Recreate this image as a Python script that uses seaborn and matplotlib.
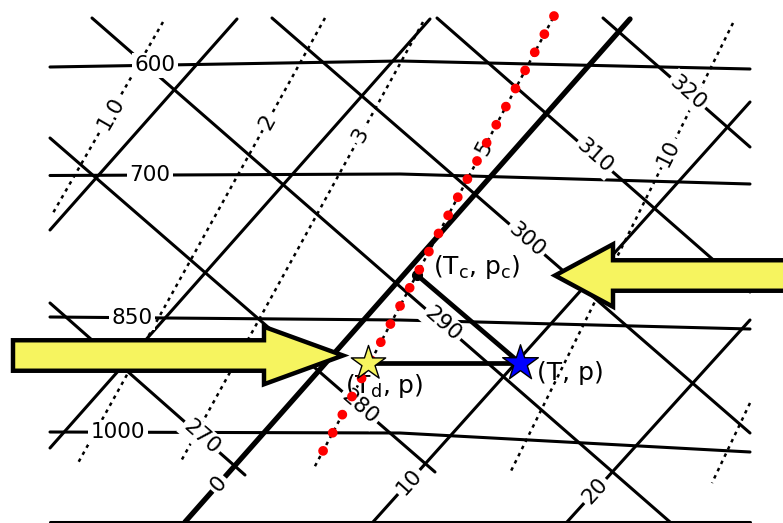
import numpy as np
import pandas as pd
import matplotlib
matplotlib.use("Agg")
import matplotlib.pyplot as plt
import seaborn as sns

# The diagram in image pixels (x right, y down).
chart_x = [50, 400, 750]  # left edge, middle, right edge of the grid

# isobars (hPa): height of each line at the left edge, middle and right edge
isobar_levels = [600, 700, 850, 1000]
isobar_y_left = [67, 175.5, 317, 432]
isobar_y_mid = [61, 174, 320, 433]
isobar_y_right = [69, 184, 329, 452]
base_y = 521.5

# isotherms (deg C), solid, skewed up to the right
isotherm_temps = [-20, -10, 0, 10, 20]
isotherm_x0 = [50, 50, 185, 373, 567]
isotherm_y0 = [230, 448, 522, 522, 522]
isotherm_x1 = [237, 430, 630, 750, 750]
isotherm_y1 = [19, 19, 19, 102, 320]

# dry adiabats (K), solid, running down to the right
adiabat_theta = [270, 280, 290, 300, 310, 320]
adiabat_x0 = [50, 50, 92, 272, 437, 603]
adiabat_y0 = [303, 138, 18, 18, 18, 18]
adiabat_x1 = [245, 435, 670, 750, 750, 750]
adiabat_y1 = [475, 472, 522, 433, 292, 147]

# saturation mixing ratio lines (g/kg), dotted
mixing_ratio = ["1.0", "2", "3", "5", "10", "20"]
mixing_x0 = [163, 325, 423, 553, 733, 750]
mixing_y0 = [22, 18, 22, 18, 23, 403]
mixing_x1 = [53, 78, 180, 314, 510, 712]
mixing_y1 = [213, 463, 463, 468, 473, 483]

# the parcel: dew point, temperature, lifting condensation level
parcel_names = ["(T$_d$, p)", "(T, p)", "(T$_c$, p$_c$)"]
parcel_x = [368, 520, 417]
parcel_y = [363, 363, 275]
# constant mixing ratio through the dew point (red dots)
moist_x = [554, 314]
moist_y = [16, 468]

# where the labels sit along their lines
isobar_label_x = [155, 150, 132, 118]
isotherm_label_y = [None, None, 484, 482, 491]
adiabat_label_x = [202, 360, 443, 527, 595, 688]
mixing_label_y = [113, 122, 135, 148, 153, None]

sns.set_style("white")
plt.rcParams["font.family"] = ["DejaVu Sans"]
plt.rcParams["text.color"] = "black"
plt.rcParams["mathtext.default"] = "regular"

fig = plt.figure(figsize=(7.83, 5.23), dpi=100)
ax = fig.add_axes([0, 0, 1, 1])


def segments(names, x0, y0, x1, y1):
    rows = []
    for n, a, b, c, d in zip(names, x0, y0, x1, y1):
        rows.append({"line": str(n), "x": a, "y": b})
        rows.append({"line": str(n), "x": c, "y": d})
    return pd.DataFrame(rows)


def draw(df, **kw):
    sns.lineplot(data=df, x="x", y="y", units="line", estimator=None,
                 sort=False, legend=False, ax=ax, **kw)


label_box = dict(boxstyle="square,pad=0.12", fc="white", ec="none")
num_size = 15.5

# isobars
rows = []
for lev, yl, ym, yr in zip(isobar_levels, isobar_y_left, isobar_y_mid, isobar_y_right):
    for x, y in zip(chart_x, [yl, ym, yr]):
        rows.append({"line": str(lev), "x": x, "y": y})
rows += [{"line": "base", "x": chart_x[0], "y": base_y},
         {"line": "base", "x": chart_x[-1], "y": base_y}]
draw(pd.DataFrame(rows), color="black", lw=2.2, zorder=2)
for lev, lx, yl, ym, yr in zip(isobar_levels, isobar_label_x,
                               isobar_y_left, isobar_y_mid, isobar_y_right):
    ly = np.interp(lx, chart_x, [yl, ym, yr])
    ax.text(lx, ly, str(lev), ha="center", va="center", fontsize=num_size,
            bbox=label_box, zorder=3)

# isotherms, the 0 deg C one drawn heavy
iso = segments(isotherm_temps, isotherm_x0, isotherm_y0, isotherm_x1, isotherm_y1)
draw(iso[iso["line"] != "0"], color="black", lw=2.2, zorder=2)
draw(iso[iso["line"] == "0"], color="black", lw=3.8, zorder=2)
for t, ly, a, b, c, d in zip(isotherm_temps, isotherm_label_y,
                             isotherm_x0, isotherm_y0, isotherm_x1, isotherm_y1):
    if ly is None:
        continue
    lx = np.interp(ly, [d, b], [c, a])
    ang = np.degrees(np.arctan2(b - d, c - a))
    ax.text(lx, ly, str(t), ha="center", va="center", rotation=ang,
            rotation_mode="anchor", fontsize=num_size, bbox=label_box, zorder=3)

# dry adiabats
draw(segments(adiabat_theta, adiabat_x0, adiabat_y0, adiabat_x1, adiabat_y1),
     color="black", lw=2.2, zorder=2)
for th, lx, a, b, c, d in zip(adiabat_theta, adiabat_label_x,
                              adiabat_x0, adiabat_y0, adiabat_x1, adiabat_y1):
    ly = np.interp(lx, [a, c], [b, d])
    ang = np.degrees(np.arctan2(b - d, c - a))
    ax.text(lx, ly, str(th), ha="center", va="center", rotation=ang,
            rotation_mode="anchor", fontsize=num_size, bbox=label_box, zorder=3)

# mixing ratio lines
draw(segments(mixing_ratio, mixing_x0, mixing_y0, mixing_x1, mixing_y1),
     color="black", lw=1.8, linestyle=(0, (1.4, 1.8)), zorder=2)
for w, ly, a, b, c, d in zip(mixing_ratio, mixing_label_y,
                             mixing_x0, mixing_y0, mixing_x1, mixing_y1):
    if ly is None:
        continue
    lx = np.interp(ly, [b, d], [a, c])
    ang = np.degrees(np.arctan2(d - b, a - c))
    ax.text(lx, ly, w, ha="center", va="center", rotation=ang,
            rotation_mode="anchor", fontsize=num_size, bbox=label_box, zorder=3)

# parcel path: dew point -> temperature along the isobar, temperature -> LCL
path = pd.DataFrame({
    "line": ["p", "p", "a", "a"],
    "x": [parcel_x[0], parcel_x[1], parcel_x[1], parcel_x[2]],
    "y": [parcel_y[0], parcel_y[1], parcel_y[1], parcel_y[2]],
})
draw(path, color="black", lw=3.4, solid_capstyle="round", zorder=4)
ax.plot(parcel_x[2], parcel_y[2], "o", color="black", ms=7, zorder=4)

# red dotted line of constant mixing ratio
ax.plot(moist_x, moist_y, color="#ff0000", lw=7.0, linestyle=(0, (0.01, 2.1)),
        dash_capstyle="round", zorder=6)

# labels of the three points
ax.text(345, 386, parcel_names[0], ha="left", va="center", fontsize=18, zorder=5)
ax.text(537, 373, parcel_names[1], ha="left", va="center", fontsize=18, zorder=5)
ax.text(433, 267, parcel_names[2], ha="left", va="center", fontsize=18, zorder=5)

# yellow arrows pointing at the dew point and at the LCL
yellow = "#f6f45f"
ax.arrow(13, 355.5, 330, 0, width=30.5, head_width=57.5, head_length=79,
         length_includes_head=True, fc=yellow, ec="black", lw=3.2, zorder=5)
ax.arrow(800, 275.5, -245, 0, width=30.5, head_width=62.5, head_length=58,
         length_includes_head=True, fc=yellow, ec="black", lw=3.2, zorder=5,
         clip_on=True)

# stars for dew point and temperature
sns.scatterplot(x=[parcel_x[0]], y=[parcel_y[0]], marker="*", s=26 ** 2,
                color=yellow, edgecolor="black", linewidth=1.0, zorder=7, ax=ax)
sns.scatterplot(x=[parcel_x[1]], y=[parcel_y[1]], marker="*", s=27 ** 2,
                color="#0000ff", edgecolor="black", linewidth=1.0, zorder=7, ax=ax)

ax.set_xlim(0, 783)
ax.set_ylim(523, 0)
ax.axis("off")
fig.savefig("out.png", dpi=100)
